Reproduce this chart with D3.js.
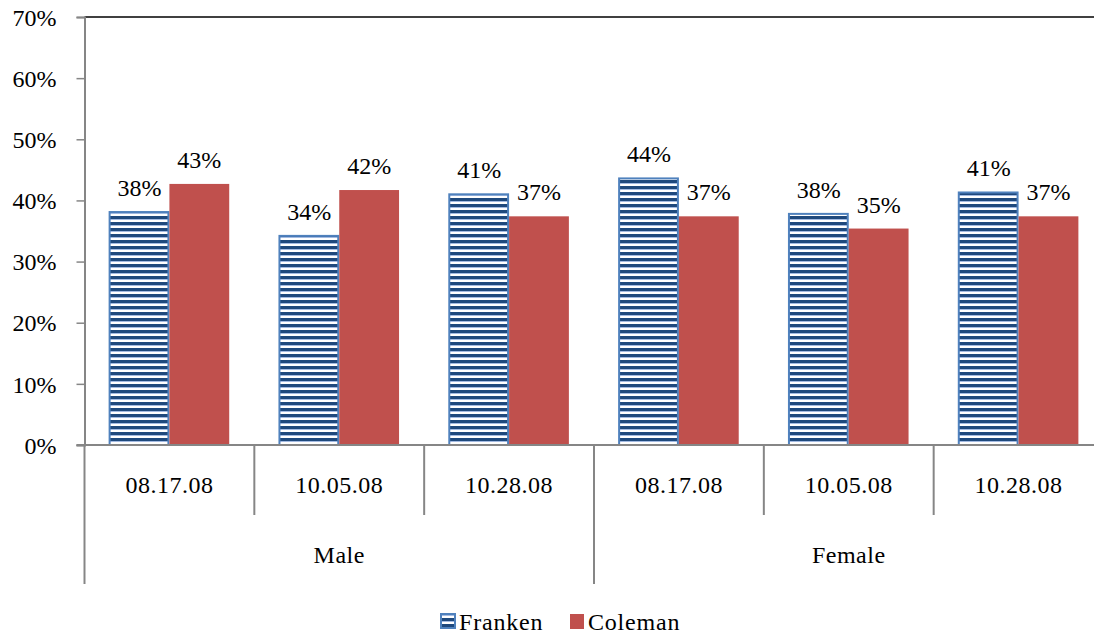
<!DOCTYPE html>
<html>
<head>
<meta charset="utf-8">
<script src="https://cdn.jsdelivr.net/npm/d3@7"></script>
<style>
  body { margin: 0; background: #fff; }
  svg { display: block; }
  svg text { font-family: "Liberation Serif", "DejaVu Serif", serif; fill: #000; }
</style>
</head>
<body>
<div id="container"></div>
<script>
const dates = ["08.17.08", "10.05.08", "10.28.08", "08.17.08", "10.05.08", "10.28.08"];
const genders = ["Male", "Female"];
const franken = [38.1, 34.2, 41.0, 43.6, 37.8, 41.3];
const coleman = [42.7, 41.7, 37.4, 37.4, 35.4, 37.4];
const yTicks = [0, 10, 20, 30, 40, 50, 60, 70];

const width = 1094, height = 634;
const plotLeft = 84.5, plotRight = 1103.5, plotTop = 17, plotBottom = 445;
const fs = 24;

const svg = d3.select("#container").append("svg")
  .attr("width", width).attr("height", height);

const defs = svg.append("defs");
const pat = defs.append("pattern")
  .attr("id", "stripes")
  .attr("patternUnits", "userSpaceOnUse")
  .attr("width", 8).attr("height", 6);
pat.append("rect").attr("width", 8).attr("height", 6).attr("fill", "#fff");
pat.append("rect").attr("y", 0).attr("width", 8).attr("height", 3).attr("fill", "#1F497D");
pat.append("rect").attr("y", 3).attr("width", 8).attr("height", 0.8).attr("fill", "#8eaadb");

const x = d3.scaleBand().domain(d3.range(dates.length)).range([plotLeft, plotRight]);
const y = d3.scaleLinear().domain([0, 70]).range([plotBottom, plotTop]);

const inner = d3.scaleBand().domain(["f", "c"]).range([0, x.bandwidth()]).paddingInner(0).paddingOuter(0.42);

// top border
svg.append("line")
  .attr("x1", plotLeft).attr("x2", width)
  .attr("y1", y(70)).attr("y2", y(70))
  .attr("stroke", "#000").attr("stroke-width", 1.5);

// y axis
const yAxis = d3.axisLeft(y).tickValues(yTicks).tickFormat(d => d + "%").tickSize(8).tickPadding(20);
const ya = svg.append("g").attr("transform", `translate(${plotLeft},0)`).call(yAxis)
  .attr("font-family", null).attr("font-size", null);
ya.select(".domain").attr("stroke", "#868686").attr("stroke-width", 2);
ya.selectAll(".tick line").attr("stroke", "#868686").attr("stroke-width", 1.5);
ya.selectAll(".tick text").attr("font-size", fs).attr("dy", "0.34em");

// bars
const g = svg.append("g");
dates.forEach((d, i) => {
  const x0 = x(i);
  g.append("rect")
    .attr("x", x0 + inner("f")).attr("width", inner.bandwidth() - 1)
    .attr("y", y(franken[i])).attr("height", y(0) - y(franken[i]))
    .attr("fill", "url(#stripes)").attr("stroke", "#4F81BD").attr("stroke-width", 2);
  g.append("rect")
    .attr("x", x0 + inner("c")).attr("width", inner.bandwidth())
    .attr("y", y(coleman[i])).attr("height", y(0) - y(coleman[i]))
    .attr("fill", "#C0504D");
  g.append("text")
    .attr("x", x0 + inner("f") + inner.bandwidth() / 2)
    .attr("y", y(franken[i]) - 16)
    .attr("text-anchor", "middle").attr("font-size", fs)
    .text(Math.round(franken[i]) + "%");
  g.append("text")
    .attr("x", x0 + inner("c") + inner.bandwidth() / 2)
    .attr("y", y(coleman[i]) - 16)
    .attr("text-anchor", "middle").attr("font-size", fs)
    .text(Math.round(coleman[i]) + "%");
});

// x axis line
svg.append("line")
  .attr("x1", plotLeft - 8).attr("x2", width)
  .attr("y1", plotBottom).attr("y2", plotBottom)
  .attr("stroke", "#868686").attr("stroke-width", 2);

// category separators
d3.range(dates.length + 1).forEach(i => {
  const xp = i < dates.length ? x(i) : plotRight;
  const isGroup = i % 3 === 0;
  svg.append("line")
    .attr("x1", xp).attr("x2", xp)
    .attr("y1", plotBottom).attr("y2", isGroup ? 584 : 515)
    .attr("stroke", "#868686").attr("stroke-width", 2);
});

// date labels
svg.append("g").selectAll("text").data(dates).join("text")
  .attr("x", (d, i) => x(i) + x.bandwidth() / 2)
  .attr("y", 493)
  .attr("text-anchor", "middle").attr("font-size", fs)
  .attr("letter-spacing", 0.5)
  .text(d => d);

// gender labels
svg.append("g").selectAll("text").data(genders).join("text")
  .attr("x", (d, i) => (x(i * 3) + (i === 0 ? x(3) : plotRight)) / 2)
  .attr("y", 563)
  .attr("text-anchor", "middle").attr("font-size", fs)
  .attr("letter-spacing", 0.5)
  .text(d => d);

// legend
const legend = svg.append("g");
legend.append("rect").attr("x", 441).attr("y", 614).attr("width", 14).attr("height", 14)
  .attr("fill", "url(#stripes)").attr("stroke", "#4F81BD").attr("stroke-width", 2);
legend.append("text").attr("x", 459).attr("y", 630).attr("font-size", fs)
  .attr("letter-spacing", 0.8).text("Franken");
legend.append("rect").attr("x", 570).attr("y", 614).attr("width", 14).attr("height", 15)
  .attr("fill", "#C0504D");
legend.append("text").attr("x", 588).attr("y", 630).attr("font-size", fs)
  .attr("letter-spacing", 0.8).text("Coleman");
</script>
</body>
</html>
